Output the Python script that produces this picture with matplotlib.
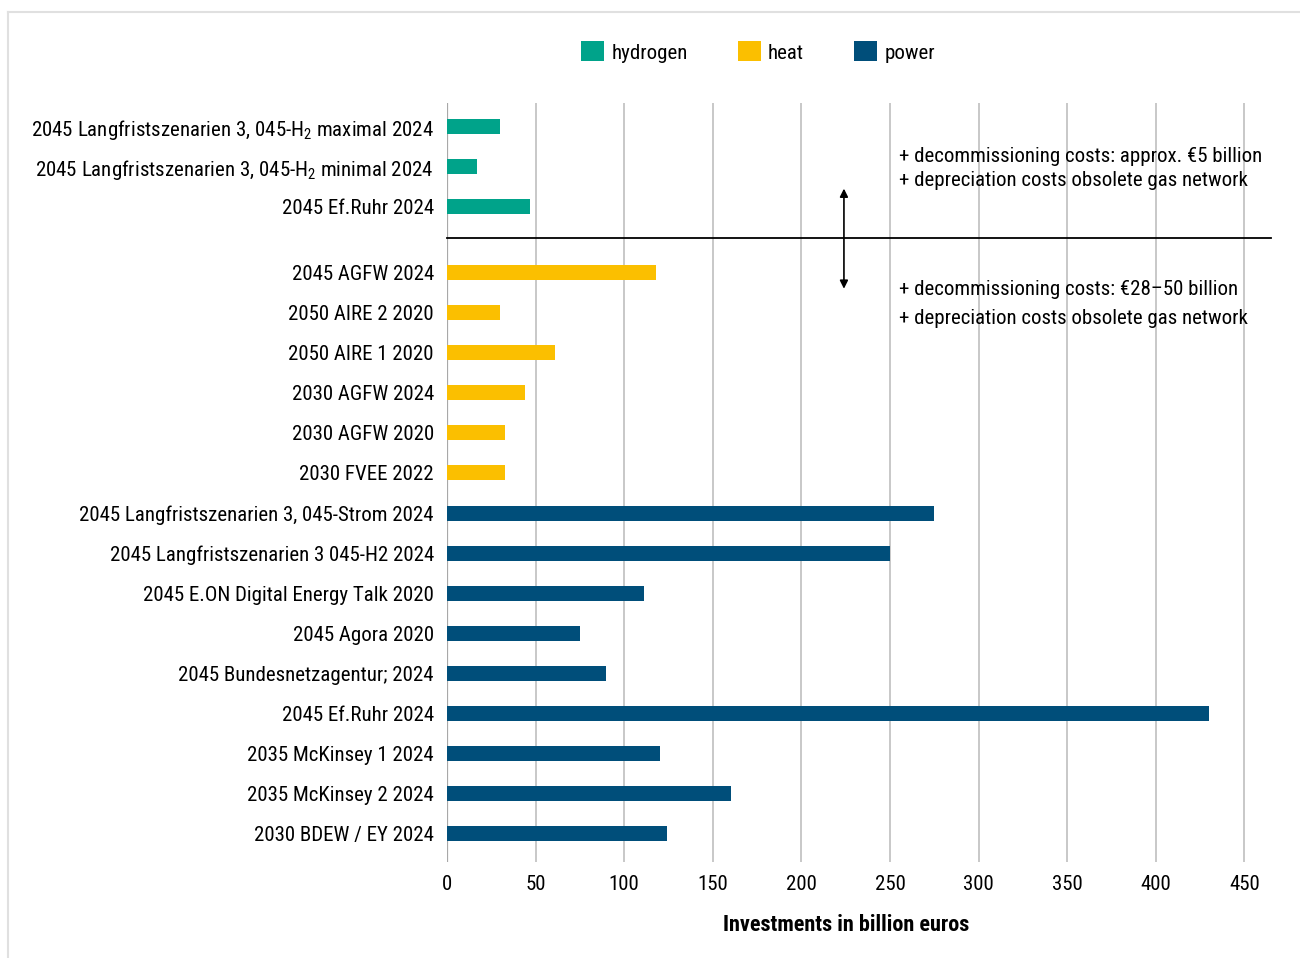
import matplotlib
matplotlib.use("Agg")
import matplotlib.pyplot as plt
from matplotlib.patches import Patch
from matplotlib.lines import Line2D

FONT = "Roboto Condensed"
plt.rcParams['font.family'] = [FONT, 'DejaVu Sans']
plt.rcParams['mathtext.fontset'] = 'custom'
plt.rcParams['mathtext.rm'] = FONT
plt.rcParams['mathtext.it'] = FONT
plt.rcParams['mathtext.default'] = 'rm'

# ---------------- data ----------------
hydrogen_labels = [r"2045 Langfristszenarien 3, 045-H$_\mathrm{2}$ maximal 2024",
                   r"2045 Langfristszenarien 3, 045-H$_\mathrm{2}$ minimal 2024",
                   "2045 Ef.Ruhr 2024"]
hydrogen_values = [30, 17, 47]

heat_labels = ["2045 AGFW 2024", "2050 AIRE 2 2020", "2050 AIRE 1 2020",
               "2030 AGFW 2024", "2030 AGFW 2020", "2030 FVEE 2022"]
heat_values = [118, 30, 61, 44, 33, 33]

power_labels = ["2045 Langfristszenarien 3, 045-Strom 2024",
                "2045 Langfristszenarien 3 045-H2 2024",
                "2045 E.ON Digital Energy Talk 2020",
                "2045 Agora 2020",
                "2045 Bundesnetzagentur; 2024",
                "2045 Ef.Ruhr 2024",
                "2035 McKinsey 1 2024",
                "2035 McKinsey 2 2024",
                "2030 BDEW / EY 2024"]
power_values = [275, 250, 111, 75, 90, 430, 120, 160, 124]

series_names = ["hydrogen", "heat", "power"]
colors = {"hydrogen": "#00a38a", "heat": "#fbbf00", "power": "#004e7a"}

x_ticks = [0, 50, 100, 150, 200, 250, 300, 350, 400, 450]
x_label = "Investments in billion euros"
note_top = ["+ decommissioning costs: approx. \u20ac5 billion",
            "+ depreciation costs obsolete gas network"]
note_bottom = ["+ decommissioning costs: \u20ac28\u201350 billion",
               "+ depreciation costs obsolete gas network"]

# ---------------- layout ----------------
FS = 15
groups = [("hydrogen", hydrogen_labels, hydrogen_values),
          ("heat", heat_labels, heat_values),
          ("power", power_labels, power_values)]
group_gap = [0.0, 0.65, 0.0]

fig = plt.figure(figsize=(13, 9.58), dpi=100)
ax = fig.add_axes([447 / 1300, 1 - 862 / 958, (1271 - 447) / 1300, (862 - 103) / 958])

pos = 0.0
all_pos, all_labels = [], []
sep_y = None
prev_last = None
for gi, (name, labels, values) in enumerate(groups):
    if gi > 0:
        pos += 1 + group_gap[gi]
    ys = []
    for k in range(len(values)):
        if k > 0:
            pos += 1
        ys.append(pos)
    if gi == 1:
        sep_y = (prev_last + ys[0]) / 2 - 0.05
    ax.barh(ys, values, height=0.375, color=colors[name], zorder=3)
    all_pos += ys
    all_labels += labels
    prev_last = ys[-1]

ax.set_ylim(all_pos[-1] + (862 - 833.5) / 40, -(126.5 - 103) / 40)
ax.set_xlim(0, 465)
ax.set_yticks(all_pos)
ax.set_yticklabels(all_labels, fontsize=FS)
ax.tick_params(axis='y', length=0, pad=9.5)
ax.set_xticks(x_ticks)
ax.set_xticklabels([str(t) for t in x_ticks], fontsize=FS)
ax.tick_params(axis='x', length=0, pad=9)

for s in ax.spines.values():
    s.set_visible(False)
for t in x_ticks:
    ax.axvline(t, color="#a8a8a8" if t == 0 else "#c4c4c4", lw=1.6 if t == 0 else 1.3, zorder=1)

ax.set_xlabel(x_label, fontsize=16, fontweight='bold')
ax.xaxis.set_label_coords(225 / 465, -0.068)

# separator line
ax.plot([0, 465], [sep_y, sep_y], color="black", lw=1.3, zorder=4, clip_on=False)

# double arrow
ax.annotate("", xy=(224, 1.55), xytext=(224, 4.05),
            arrowprops=dict(arrowstyle="<|-|>", color="black", lw=1.2,
                            mutation_scale=12, shrinkA=0, shrinkB=0), zorder=5)

# notes
ax.text(255, 0.74, note_top[0], fontsize=FS, va='center', ha='left', zorder=5)
ax.text(255, 1.34, note_top[1], fontsize=FS, va='center', ha='left', zorder=5)
ax.text(255, 4.06, note_bottom[0], fontsize=FS, va='center', ha='left', zorder=5)
ax.text(255, 4.79, note_bottom[1], fontsize=FS, va='center', ha='left', zorder=5)

# legend
handles = [Patch(facecolor=colors[n], edgecolor='none', label=n) for n in series_names]
fig.legend(handles=handles, loc='center', bbox_to_anchor=(758 / 1300, 1 - 52 / 958),
           ncol=3, frameon=False, fontsize=FS, handlelength=1.1, handleheight=1.1,
           handletextpad=0.35, columnspacing=2.4)

# figure frame lines (light grey)
fig.add_artist(Line2D([8 / 1300, 8 / 1300], [0, 1 - 12 / 958], color="#e0e0e0", lw=1.5,
                      transform=fig.transFigure))
fig.add_artist(Line2D([8 / 1300, 1], [1 - 12 / 958, 1 - 12 / 958], color="#e0e0e0", lw=1.5,
                      transform=fig.transFigure))

fig.savefig("out.png", dpi=100)
